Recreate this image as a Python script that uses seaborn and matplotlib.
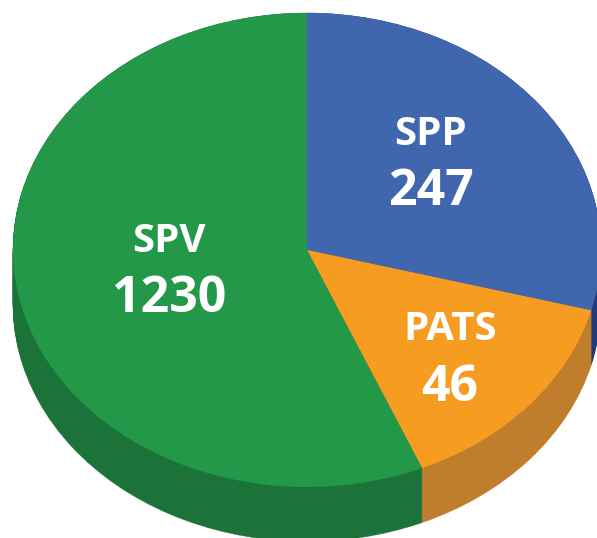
import numpy as np
import matplotlib
matplotlib.use('Agg')
import matplotlib.pyplot as plt
import seaborn as sns

# Datos del grafico
categorias = ['SPP', 'PATS', 'SPV']
valores = [247, 46, 1230]
# proporcion de cada porcion tal como aparece en la imagen (no proporcional a los valores)
porciones = [29.1, 14.5, 56.4]

colores = ['#4067AE', '#F69C20', '#229848']
colores_lado = ['#203C7C', '#C07E2D', '#1B733A']

sns.set_theme(style='white')
plt.rcParams['font.family'] = ['Open Sans', 'DejaVu Sans']

fig = plt.figure(figsize=(5.97, 5.38), dpi=100)
ax = fig.add_axes([0, 0, 1, 1])

# Grosor del "cilindro" (en unidades de radio vertical)
profundidad = 0.23
for t in np.linspace(profundidad, 0.0, 40):
    ax.pie(porciones, colors=colores_lado, startangle=90, counterclock=False,
           center=(0, -t), wedgeprops=dict(linewidth=0.3))
    for w, c in zip(ax.patches[-3:], colores_lado):
        w.set_edgecolor(c)

cuñas, _ = ax.pie(porciones, colors=colores, startangle=90, counterclock=False,
                  wedgeprops=dict(linewidth=0))

# Etiquetas
radio_etiqueta = [0.57, 0.66, 0.48]
ajuste = [(-0.03, 0.015), (-0.013, -0.03), (0.0, 0.008)]
for w, cat, val, r, (dx, dy) in zip(cuñas, categorias, valores, radio_etiqueta, ajuste):
    ang = np.deg2rad((w.theta1 + w.theta2) / 2)
    x, y = r * np.cos(ang) + dx, r * np.sin(ang) + dy
    ax.text(x, y + 0.125, cat, color='white', fontsize=29, fontweight='bold',
            ha='center', va='center')
    ax.text(x, y - 0.12, str(val), color='white', fontsize=36, fontweight='bold',
            ha='center', va='center')

ax.set_aspect('auto')
ax.set_xlim(-307 / 294, (597 - 307) / 294)
ax.set_ylim(-288 / 237, 250 / 237)
ax.axis('off')

fig.savefig('out.png', dpi=100)
